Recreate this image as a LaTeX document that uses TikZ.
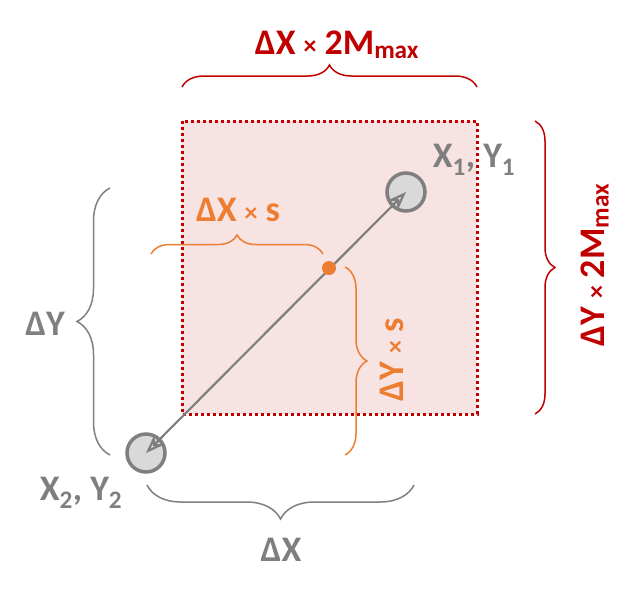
\documentclass[tikz,border=0pt]{standalone}
\usepackage{fontspec}
\setmainfont{Carlito}
\usetikzlibrary{positioning}
\usetikzlibrary{arrows.meta}
\usetikzlibrary{decorations.pathreplacing}
\definecolor{boxred}{HTML}{C00000}
\definecolor{boxfill}{HTML}{F8E3E3}
\definecolor{ptgray}{HTML}{7F7F7F}
\definecolor{ptfill}{HTML}{D9D9D9}
\definecolor{midorange}{HTML}{ED7D31}
\newcommand{\tms}{\hspace{8pt}{\fontsize{26}{26}\selectfont ×}\hspace{8pt}}

\begin{document}
\begin{tikzpicture}[x=1pt,y=-1pt,
	lbl/.style={font=\bfseries\fontsize{36}{36}\selectfont,inner sep=0pt},
	brc/.style={decorate,decoration={brace,amplitude=#1},line width=1.5pt},
	ptarrow/.tip={Stealth[open,length=19pt,width=14pt]},
	pt/.style={circle,draw=ptgray,fill=ptfill,line width=3.5pt,minimum size=38pt,inner sep=0pt}]
	\useasboundingbox (0,0) rectangle (637,595);

	\coordinate(A) at (182,121);
	\coordinate(B) at (477,414);
	\coordinate(C) at (182,87);
	\coordinate(D) at (477,87);
	\coordinate(E) at (535,121);
	\coordinate(F) at (535,414);
	\coordinate(G) at (151,254);
	\coordinate(H) at (323,254);
	\coordinate(I) at (345,267);
	\coordinate(J) at (345,455);
	\coordinate(K) at (110,455);
	\coordinate(L) at (110,188);
	\coordinate(M) at (414,485);
	\coordinate(N) at (147,485);

	% Draw max range box
	\draw[boxred,fill=boxfill,line width=3pt,dash pattern=on 3pt off 3pt] (A) rectangle (B);

	\node[pt] (p1) at (406,192) {};
	\node[pt] (p2) at (146,453) {};
	\draw[ptgray,line width=2.2pt,{ptarrow}-{ptarrow}] (p2.center) -- (p1.center);
	\node[circle,fill=midorange,minimum size=14pt,inner sep=0pt] (mid) at (329,268) {};

	% Draw braces
	\draw[brc=22,boxred] (C) -- (D);
	\draw[brc=20,boxred] (E) -- (F);
	\draw[brc=19,midorange] (G) -- (H);
	\draw[brc=22,midorange] (I) -- (J);
	\draw[brc=33,ptgray] (K) -- (L);
	\draw[brc=34,ptgray] (M) -- (N);

	\node[lbl,boxred] (dxmax) at (337,45) {ΔX\tms 2M\textsubscript{max}};
	\node[lbl,boxred,rotate=90] (dymax) at (595,265) {ΔY\tms 2M\textsubscript{max}};
	\node[lbl,midorange] (dxs) at (238,210) {ΔX\tms s};
	\node[lbl,midorange,rotate=90] (dys) at (392,360) {ΔY\tms s};
	\node[lbl,ptgray] (dy) at (45,324) {ΔY};
	\node[lbl,ptgray] (dx) at (281,550) {ΔX};
	\node[lbl,ptgray] (xy1) at (474,160) {X\textsubscript{1}, Y\textsubscript{1}};
	\node[lbl,ptgray] (xy2) at (81,493) {X\textsubscript{2}, Y\textsubscript{2}};
\end{tikzpicture}
\end{document}
